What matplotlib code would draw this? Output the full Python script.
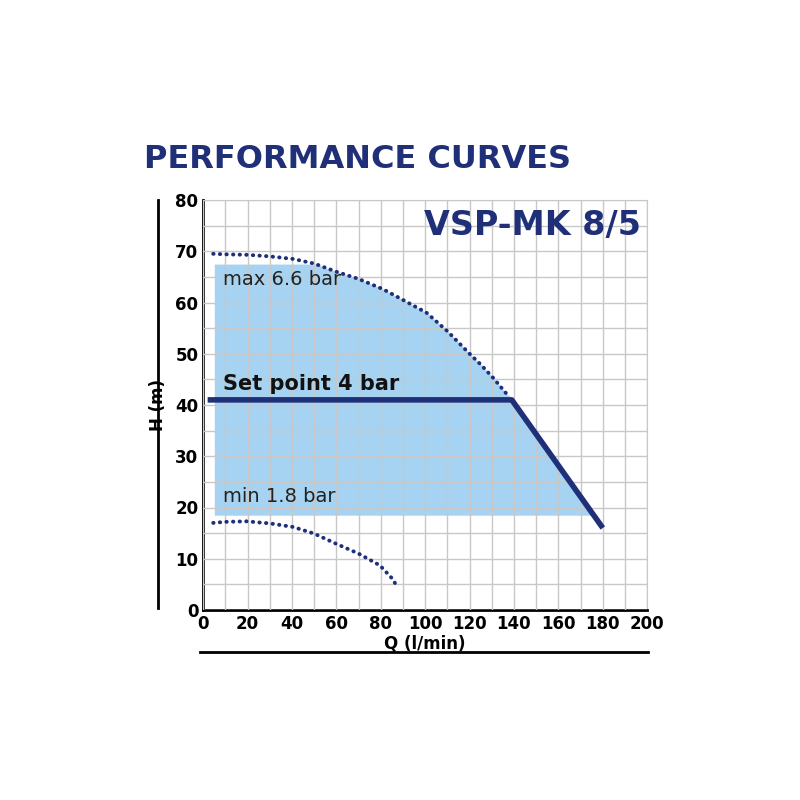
import matplotlib.pyplot as plt
import numpy as np

max_q = [4.5, 10, 20, 30, 40.5, 50, 60, 70, 81, 90, 100.6, 110, 120, 125, 130.6, 137]
max_h = [69.5, 69.4, 69.3, 69.0, 68.5, 67.6, 66, 64.6, 62.6, 60.5, 58, 54.4, 50, 47.9, 45.3, 42]
min_q = [4.5, 10, 19.5, 30, 40.5, 50, 60, 70, 79.6, 85, 87.8]
min_h = [17, 17.2, 17.3, 16.9, 16.2, 14.9, 12.9, 11.0, 8.7, 6.2, 4.3]
set_q = [2, 139, 180]
set_h = [41, 41, 16]
fill_top = 67.5
fill_bot = 18.5

navy = '#1f2f78'
plt.rcParams['font.family'] = ['Liberation Sans Narrow', 'DejaVu Sans']
fig = plt.figure(figsize=(8, 8), dpi=100)
ax = fig.add_axes([0.254, 0.2375, 0.555, 0.5125])
ax.set_xlim(0, 200); ax.set_ylim(0, 80)

xs = np.linspace(5, 139, 300)
top = np.minimum(np.interp(xs, max_q + [139], max_h + [41.5]), fill_top)
xd = np.linspace(139, 175, 50)
topd = np.interp(xd, set_q[1:], set_h[1:])
X = np.concatenate([xs, xd]); Y = np.concatenate([top, topd])
ax.fill_between(X, fill_bot, Y, color='#a6d3f1', zorder=1, lw=0)

ax.set_xticks(np.arange(0, 201, 10), minor=True)
ax.set_yticks(np.arange(0, 81, 5), minor=True)
ax.set_xticks(np.arange(0, 201, 20))
ax.set_yticks(np.arange(0, 81, 10))
ax.grid(which='both', color='#c8c8c8', lw=1, zorder=2)
ax.set_axisbelow(False)
ax.tick_params(which='both', length=0)
for lab in ax.get_xticklabels() + ax.get_yticklabels():
    lab.set_fontweight('bold'); lab.set_fontsize(12)
for s in ['top', 'right']:
    ax.spines[s].set_color('#c8c8c8')
for s in ['bottom', 'left']:
    ax.spines[s].set_linewidth(2); ax.spines[s].set_color('black')

ax.plot(max_q, max_h, color=navy, lw=2.8, zorder=3, linestyle=(0, (0.1, 1.6)), dash_capstyle='round')
ax.plot(min_q, min_h, color=navy, lw=2.8, zorder=3, linestyle=(0, (0.1, 1.6)), dash_capstyle='round')
ax.plot(set_q, set_h, '-', color=navy, lw=4, zorder=4, solid_capstyle='butt')

ax.text(9, 63.5, 'max 6.6 bar', fontsize=14, color='#222')
ax.text(9, 21, 'min 1.8 bar', fontsize=14, color='#222')
ax.text(9, 43, 'Set point 4 bar', fontsize=15, fontweight='bold', color='#111')
ax.text(197, 75, 'VSP-MK 8/5', fontsize=24, fontweight='bold', color=navy, ha='right', va='center')
ax.set_xlabel('Q (l/min)', fontweight='bold', fontsize=12, labelpad=1)
ax.set_ylabel('H (m)', fontweight='bold', fontsize=12, labelpad=6)

fig.text(0.18, 0.79, 'PERFORMANCE CURVES', fontsize=23, fontweight='bold', color=navy)
fig.add_artist(plt.Line2D([0.198, 0.198], [0.24, 0.75], color='black', lw=2))
fig.add_artist(plt.Line2D([0.25, 0.81], [0.185, 0.185], color='black', lw=2))
fig.savefig('out.png')
